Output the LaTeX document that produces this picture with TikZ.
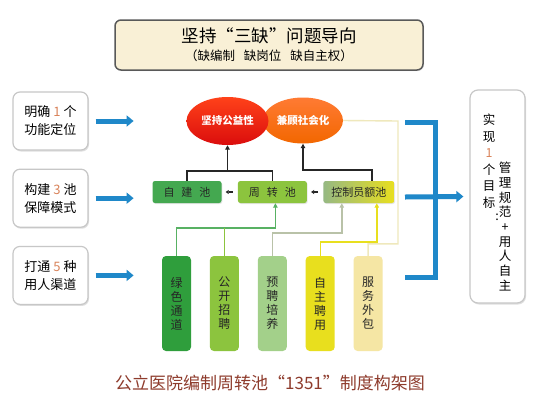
\documentclass[tikz,border=0pt]{standalone}
\usepackage{fontspec}
\setmainfont{Noto Sans CJK SC}
\usetikzlibrary{positioning,arrows.meta,shapes.geometric,shadows}

\definecolor{flowblue}{HTML}{1F88C9}
\definecolor{numorange}{HTML}{D9835A}
\definecolor{cream}{HTML}{F9F0D6}
\definecolor{capred}{HTML}{8E3B2C}
\definecolor{deepgreen}{HTML}{2F9E3C}
\definecolor{leafgreen}{HTML}{8CC43E}
\definecolor{sagegreen}{HTML}{A3D08A}
\definecolor{lemon}{HTML}{E8DF1E}
\definecolor{sand}{HTML}{F5E6A4}
\definecolor{greyline}{HTML}{B9C2A8}
\definecolor{paleline}{HTML}{EFE8BC}

\newcommand{\numhl}[1]{\textcolor{numorange}{#1}}

\tikzset{
  sidecard/.style={draw=black!22, line width=1.2pt, fill=white, rounded corners=7pt,
    minimum width=75pt, minimum height=58pt, align=center,
    font=\fontsize{13pt}{18pt}\selectfont,
    drop shadow={opacity=.25, shadow xshift=1pt, shadow yshift=-1.5pt}},
  poolbox/.style={rounded corners=2.5pt, minimum width=69pt, minimum height=22pt,
    inner sep=0pt, font=\fontsize{11pt}{12pt}\selectfont, text=black!85,
    drop shadow={opacity=.2, shadow xshift=.8pt, shadow yshift=-1pt}},
  channelbar/.style={rounded corners=4pt, minimum width=29pt, minimum height=95pt,
    inner sep=0pt, align=center, font=\fontsize{12pt}{14pt}\selectfont, text=black!85},
  aimoval/.style={ellipse, inner sep=0pt, text=white,
    font=\bfseries\fontsize{10.5pt}{12pt}\selectfont},
  feedarrow/.style={draw=flowblue, line width=5pt, -{Triangle[length=7pt,width=11pt]}},
  wire/.style={draw=black!85, line width=1.6pt},
  uptip/.style={-{Triangle[length=4.5pt,width=4.5pt]}},
}

\begin{document}
\begin{tikzpicture}[x=1pt, y=-1pt]
  \fill[white] (0,0) rectangle (540,400);
  \useasboundingbox (0,0) rectangle (540,400);

  % Define nodes
  \node[draw=black!65, line width=1.5pt, fill=cream, rounded corners=6pt,
        minimum width=308pt, minimum height=50pt, align=center,
        font=\fontsize{17.5pt}{18pt}\selectfont,
        drop shadow={opacity=.2, shadow xshift=1pt, shadow yshift=-1pt}]
        (topic) at (269,45)
        {坚持“三缺”问题导向\\
         {\fontsize{12.5pt}{14pt}\selectfont （缺编制\hspace{9pt}缺岗位\hspace{9pt}缺自主权）}};

  \node[sidecard] (mission) at (50.5,121) {明确 \numhl{1} 个\\功能定位};
  \node[sidecard, below=18pt of mission] (pools) {构建 \numhl{3} 池\\保障模式};
  \node[sidecard, below=18pt of pools] (channels) {打通 \numhl{5} 种\\用人渠道};

  \node[aimoval, minimum width=80pt, minimum height=46pt,
        top color=orange!70!red!80, bottom color=orange!85!red!95!black]
        (social) at (303,120.5) {兼顾社会化};
  \node[aimoval, minimum width=82pt, minimum height=48pt,
        top color=red!65!orange!90, bottom color=red!85!black!95]
        (public) at (227.5,121) {坚持公益性};

  \node[poolbox, fill=deepgreen!90] (selfpool) at (187,192) {自\hspace{7pt}建\hspace{7pt}池};
  \node[poolbox, fill=leafgreen, right=16pt of selfpool] (turnpool) {周\hspace{7pt}转\hspace{7pt}池};
  \node[poolbox, minimum width=71pt, left color=sagegreen!85!black!90, right color=lemon,
        right=16pt of turnpool] (quota) {控制员额池};

  \node[channelbar, fill=deepgreen] (greenway) at (176.5,303.5) {绿\\色\\通\\道};
  \node[channelbar, fill=leafgreen, right=18.5pt of greenway] (openhire) {公\\开\\招\\聘};
  \node[channelbar, fill=sagegreen, right=18.5pt of openhire] (prehire) {预\\聘\\培\\养};
  \node[channelbar, fill=lemon, right=18.5pt of prehire] (selfhire) {自\\主\\聘\\用};
  \node[channelbar, fill=sand, right=18.5pt of selfhire] (outsource) {服\\务\\外\\包};

  \node[draw=black!22, line width=1.2pt, fill=white, rounded corners=8pt,
        minimum width=55pt, minimum height=213pt,
        drop shadow={opacity=.25, shadow xshift=1pt, shadow yshift=-1.5pt}]
        (goal) at (497.5,196.5) {};
  \node[anchor=north, align=center, inner sep=0pt,
        font=\fontsize{12.5pt}{16.5pt}\selectfont]
        (goalleft) at (489,114) {实\\现\\\numhl{1}\\个\\目\\标};
  \node[anchor=north, align=center, inner sep=0pt,
        font=\fontsize{12.5pt}{14.7pt}\selectfont]
        (goalright) at (505,162) {管\\理\\规\\范\\+\\用\\人\\自\\主};
  \node[inner sep=0pt, font=\fontsize{12.5pt}{14pt}\selectfont] (colon) at (497,217) {:};

  \node[text=capred, font=\fontsize{17pt}{20pt}\selectfont] (caption) at (270,383)
        {公立医院编制周转池“1351”制度构架图};

  \coordinate (brtop) at (405,122);
  \coordinate (brmid) at (405,197);
  \coordinate (brbot) at (405,277);
  \coordinate (palebend) at (398,121);

  % Connect nodes
  \draw[feedarrow] ([xshift=7pt]mission.east) -- ([xshift=45pt]mission.east);
  \draw[feedarrow] ([xshift=7pt]pools.east) -- ([xshift=45pt]pools.east);
  \draw[feedarrow] ([xshift=7pt]channels.east) -- ([xshift=45pt]channels.east);

  \draw[flowblue, line width=5pt] (brtop) -- ++(30,0) |- (brbot);
  \draw[feedarrow] (brmid) -- ([xshift=-6pt]goal.west);

  \draw[wire] (selfpool.north) -- ++(0,-10) coordinate (pairjoin) -| (turnpool.north);
  \draw[wire, uptip] (public.south |- pairjoin) -- (public.south);
  \draw[wire, uptip] ([xshift=13pt]quota.north) -- ++(0,-11) -| (social.south);

  \draw[wire, line width=2pt, shorten >=4pt, shorten <=5pt,
        -{Triangle[length=3pt,width=4pt]}] (turnpool.west) -- (selfpool.east);
  \draw[wire, line width=2pt, shorten >=4pt, shorten <=5pt,
        -{Triangle[length=3pt,width=4pt]}] (quota.west) -- (turnpool.east);

  \draw[deepgreen!80, line width=1.4pt, uptip] (greenway.north) -- ++(0,-28) -| ([xshift=3pt]turnpool.south);
  \draw[leafgreen, line width=1.4pt] (openhire.north) -- ++(0,-28);
  \draw[greyline, line width=1.4pt, uptip] (prehire.north) -- ++(0,-23) -| ([xshift=-17pt]quota.south);
  \draw[lemon, line width=1.4pt, uptip] (selfhire.north) -- ++(0,-14) -| ([xshift=18pt]quota.south);
  \draw[paleline, line width=1.4pt] (outsource.north) -- ++(0,-12) -| (palebend) -- (social.east);
\end{tikzpicture}
\end{document}
